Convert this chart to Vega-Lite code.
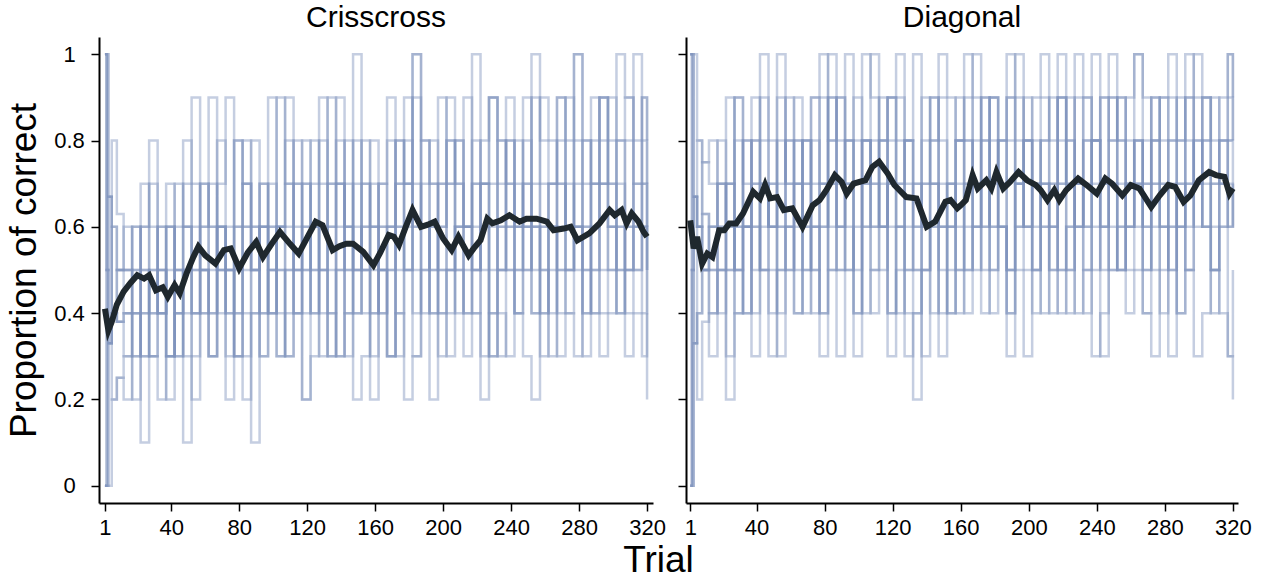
{
"$schema": "https://vega.github.io/schema/vega-lite/v6.json",
"padding": {"left": 5, "top": 3, "right": 5, "bottom": 0},
"bounds": "flush",
"spacing": 33,
"config": {
  "view": {"stroke": null},
  "font": "Liberation Sans",
  "axis": {"domainColor": "black", "domainWidth": 2, "tickColor": "black", "tickWidth": 1.5, "tickSize": 8, "labelFont": "Liberation Sans", "labelFontSize": 22, "labelColor": "black", "titleFont": "Liberation Sans", "titleFontSize": 37, "titleFontWeight": "normal", "titleColor": "black", "grid": false},
  "title": {"font": "Liberation Sans", "fontSize": 30, "fontWeight": "normal", "color": "black", "offset": 0}
},
"datasets": {
"cc": [
{"s":1,"t":1,"v":1},{"s":1,"t":2,"v":0.5},{"s":1,"t":3,"v":0.67},{"s":1,"t":5,"v":0.6},{"s":1,"t":8,"v":0.5},
{"s":1,"t":12,"v":0.5},{"s":1,"t":17,"v":0.6},{"s":1,"t":22,"v":0.4},{"s":1,"t":27,"v":0.5},{"s":1,"t":32,"v":0.6},{"s":1,"t":37,"v":0.7},{"s":1,"t":42,"v":0.5},{"s":1,"t":47,"v":0.6},{"s":1,"t":52,"v":0.7},{"s":1,"t":57,"v":0.6},
{"s":1,"t":62,"v":0.7},{"s":1,"t":67,"v":0.5},{"s":1,"t":72,"v":0.6},{"s":1,"t":77,"v":0.8},{"s":1,"t":82,"v":0.7},{"s":1,"t":87,"v":0.6},{"s":1,"t":92,"v":0.7},{"s":1,"t":97,"v":0.5},{"s":1,"t":102,"v":0.6},{"s":1,"t":107,"v":0.8},
{"s":1,"t":112,"v":0.7},{"s":1,"t":117,"v":0.6},{"s":1,"t":122,"v":0.8},{"s":1,"t":127,"v":0.7},{"s":1,"t":132,"v":0.9},{"s":1,"t":137,"v":0.7},{"s":1,"t":142,"v":0.6},{"s":1,"t":147,"v":0.8},{"s":1,"t":152,"v":0.7},{"s":1,"t":157,"v":0.6},
{"s":1,"t":162,"v":0.7},{"s":1,"t":167,"v":0.8},{"s":1,"t":172,"v":0.6},{"s":1,"t":177,"v":0.7},{"s":1,"t":182,"v":0.9},{"s":1,"t":187,"v":0.8},{"s":1,"t":192,"v":0.7},{"s":1,"t":197,"v":0.6},{"s":1,"t":202,"v":0.8},{"s":1,"t":207,"v":0.7},
{"s":1,"t":212,"v":0.6},{"s":1,"t":217,"v":0.8},{"s":1,"t":222,"v":0.7},{"s":1,"t":227,"v":0.9},{"s":1,"t":232,"v":0.8},{"s":1,"t":237,"v":0.7},{"s":1,"t":242,"v":0.8},{"s":1,"t":247,"v":0.6},{"s":1,"t":252,"v":0.7},{"s":1,"t":257,"v":0.9},
{"s":1,"t":262,"v":0.8},{"s":1,"t":267,"v":0.7},{"s":1,"t":272,"v":0.6},{"s":1,"t":277,"v":0.8},{"s":1,"t":282,"v":0.7},{"s":1,"t":287,"v":0.9},{"s":1,"t":292,"v":0.8},{"s":1,"t":297,"v":0.7},{"s":1,"t":302,"v":0.8},{"s":1,"t":307,"v":0.9},
{"s":1,"t":312,"v":0.7},{"s":1,"t":317,"v":0.8},{"s":1,"t":320,"v":0.7},
{"s":2,"t":1,"v":0},{"s":2,"t":2,"v":0},{"s":2,"t":3,"v":0.33},{"s":2,"t":5,"v":0.2},{"s":2,"t":8,"v":0.25},
{"s":2,"t":12,"v":0.3},{"s":2,"t":17,"v":0.2},{"s":2,"t":22,"v":0.4},{"s":2,"t":27,"v":0.3},{"s":2,"t":32,"v":0.2},{"s":2,"t":37,"v":0.3},{"s":2,"t":42,"v":0.4},{"s":2,"t":47,"v":0.3},{"s":2,"t":52,"v":0.2},{"s":2,"t":57,"v":0.4},
{"s":2,"t":62,"v":0.3},{"s":2,"t":67,"v":0.5},{"s":2,"t":72,"v":0.4},{"s":2,"t":77,"v":0.3},{"s":2,"t":82,"v":0.2},{"s":2,"t":87,"v":0.4},{"s":2,"t":92,"v":0.3},{"s":2,"t":97,"v":0.5},{"s":2,"t":102,"v":0.4},{"s":2,"t":107,"v":0.3},
{"s":2,"t":112,"v":0.4},{"s":2,"t":117,"v":0.2},{"s":2,"t":122,"v":0.3},{"s":2,"t":127,"v":0.5},{"s":2,"t":132,"v":0.4},{"s":2,"t":137,"v":0.3},{"s":2,"t":142,"v":0.4},{"s":2,"t":147,"v":0.2},{"s":2,"t":152,"v":0.3},{"s":2,"t":157,"v":0.4},
{"s":2,"t":162,"v":0.5},{"s":2,"t":167,"v":0.3},{"s":2,"t":172,"v":0.4},{"s":2,"t":177,"v":0.2},{"s":2,"t":182,"v":0.3},{"s":2,"t":187,"v":0.5},{"s":2,"t":192,"v":0.4},{"s":2,"t":197,"v":0.3},{"s":2,"t":202,"v":0.4},{"s":2,"t":207,"v":0.5},
{"s":2,"t":212,"v":0.3},{"s":2,"t":217,"v":0.4},{"s":2,"t":222,"v":0.2},{"s":2,"t":227,"v":0.4},{"s":2,"t":232,"v":0.3},{"s":2,"t":237,"v":0.5},{"s":2,"t":242,"v":0.4},{"s":2,"t":247,"v":0.3},{"s":2,"t":252,"v":0.2},{"s":2,"t":257,"v":0.4},
{"s":2,"t":262,"v":0.5},{"s":2,"t":267,"v":0.3},{"s":2,"t":272,"v":0.4},{"s":2,"t":277,"v":0.3},{"s":2,"t":282,"v":0.5},{"s":2,"t":287,"v":0.4},{"s":2,"t":292,"v":0.3},{"s":2,"t":297,"v":0.4},{"s":2,"t":302,"v":0.5},{"s":2,"t":307,"v":0.3},
{"s":2,"t":312,"v":0.4},{"s":2,"t":317,"v":0.3},{"s":2,"t":320,"v":0.4},
{"s":3,"t":1,"v":1},{"s":3,"t":2,"v":1},{"s":3,"t":3,"v":0.67},{"s":3,"t":5,"v":0.4},{"s":3,"t":8,"v":0.38},
{"s":3,"t":12,"v":0.4},{"s":3,"t":17,"v":0.6},{"s":3,"t":22,"v":0.3},{"s":3,"t":27,"v":0.7},{"s":3,"t":32,"v":0.5},{"s":3,"t":37,"v":0.3},{"s":3,"t":42,"v":0.6},{"s":3,"t":47,"v":0.8},{"s":3,"t":52,"v":0.4},{"s":3,"t":57,"v":0.6},
{"s":3,"t":62,"v":0.9},{"s":3,"t":67,"v":0.5},{"s":3,"t":72,"v":0.3},{"s":3,"t":77,"v":0.6},{"s":3,"t":82,"v":0.8},{"s":3,"t":87,"v":0.5},{"s":3,"t":92,"v":0.7},{"s":3,"t":97,"v":0.4},{"s":3,"t":102,"v":0.6},{"s":3,"t":107,"v":0.9},
{"s":3,"t":112,"v":0.5},{"s":3,"t":117,"v":0.7},{"s":3,"t":122,"v":0.4},{"s":3,"t":127,"v":0.8},{"s":3,"t":132,"v":0.6},{"s":3,"t":137,"v":0.3},{"s":3,"t":142,"v":0.7},{"s":3,"t":147,"v":0.5},{"s":3,"t":152,"v":0.8},{"s":3,"t":157,"v":0.4},
{"s":3,"t":162,"v":0.6},{"s":3,"t":167,"v":0.9},{"s":3,"t":172,"v":0.5},{"s":3,"t":177,"v":0.7},{"s":3,"t":182,"v":1},{"s":3,"t":187,"v":0.6},{"s":3,"t":192,"v":0.4},{"s":3,"t":197,"v":0.7},{"s":3,"t":202,"v":0.5},{"s":3,"t":207,"v":0.8},
{"s":3,"t":212,"v":0.6},{"s":3,"t":217,"v":0.4},{"s":3,"t":222,"v":0.7},{"s":3,"t":227,"v":0.9},{"s":3,"t":232,"v":0.5},{"s":3,"t":237,"v":0.7},{"s":3,"t":242,"v":0.6},{"s":3,"t":247,"v":0.8},{"s":3,"t":252,"v":0.4},{"s":3,"t":257,"v":0.6},
{"s":3,"t":262,"v":0.7},{"s":3,"t":267,"v":0.9},{"s":3,"t":272,"v":0.5},{"s":3,"t":277,"v":0.6},{"s":3,"t":282,"v":0.8},{"s":3,"t":287,"v":0.4},{"s":3,"t":292,"v":0.7},{"s":3,"t":297,"v":0.9},{"s":3,"t":302,"v":0.6},{"s":3,"t":307,"v":0.5},
{"s":3,"t":312,"v":0.7},{"s":3,"t":317,"v":0.6},{"s":3,"t":320,"v":0.5},
{"s":4,"t":1,"v":0},{"s":4,"t":2,"v":0.5},{"s":4,"t":3,"v":0.33},{"s":4,"t":5,"v":0.4},{"s":4,"t":8,"v":0.38},
{"s":4,"t":12,"v":0.4},{"s":4,"t":17,"v":0.3},{"s":4,"t":22,"v":0.5},{"s":4,"t":27,"v":0.4},{"s":4,"t":32,"v":0.5},{"s":4,"t":37,"v":0.3},{"s":4,"t":42,"v":0.4},{"s":4,"t":47,"v":0.6},{"s":4,"t":52,"v":0.5},{"s":4,"t":57,"v":0.4},
{"s":4,"t":62,"v":0.5},{"s":4,"t":67,"v":0.6},{"s":4,"t":72,"v":0.4},{"s":4,"t":77,"v":0.5},{"s":4,"t":82,"v":0.7},{"s":4,"t":87,"v":0.5},{"s":4,"t":92,"v":0.6},{"s":4,"t":97,"v":0.4},{"s":4,"t":102,"v":0.6},{"s":4,"t":107,"v":0.7},
{"s":4,"t":112,"v":0.5},{"s":4,"t":117,"v":0.6},{"s":4,"t":122,"v":0.7},{"s":4,"t":127,"v":0.5},{"s":4,"t":132,"v":0.6},{"s":4,"t":137,"v":0.8},{"s":4,"t":142,"v":0.6},{"s":4,"t":147,"v":0.5},{"s":4,"t":152,"v":0.7},{"s":4,"t":157,"v":0.6},
{"s":4,"t":162,"v":0.7},{"s":4,"t":167,"v":0.6},{"s":4,"t":172,"v":0.8},{"s":4,"t":177,"v":0.7},{"s":4,"t":182,"v":0.6},{"s":4,"t":187,"v":0.8},{"s":4,"t":192,"v":0.7},{"s":4,"t":197,"v":0.9},{"s":4,"t":202,"v":0.7},{"s":4,"t":207,"v":0.8},
{"s":4,"t":212,"v":0.6},{"s":4,"t":217,"v":0.7},{"s":4,"t":222,"v":0.8},{"s":4,"t":227,"v":0.9},{"s":4,"t":232,"v":0.7},{"s":4,"t":237,"v":0.8},{"s":4,"t":242,"v":0.6},{"s":4,"t":247,"v":0.7},{"s":4,"t":252,"v":0.9},{"s":4,"t":257,"v":0.8},
{"s":4,"t":262,"v":0.7},{"s":4,"t":267,"v":0.9},{"s":4,"t":272,"v":0.8},{"s":4,"t":277,"v":1},{"s":4,"t":282,"v":0.8},{"s":4,"t":287,"v":0.7},{"s":4,"t":292,"v":0.9},{"s":4,"t":297,"v":0.8},{"s":4,"t":302,"v":1},{"s":4,"t":307,"v":0.9},
{"s":4,"t":312,"v":0.8},{"s":4,"t":317,"v":0.9},{"s":4,"t":320,"v":0.8},
{"s":5,"t":1,"v":1},{"s":5,"t":2,"v":0.5},{"s":5,"t":3,"v":0.33},{"s":5,"t":5,"v":0.6},{"s":5,"t":8,"v":0.5},
{"s":5,"t":12,"v":0.4},{"s":5,"t":17,"v":0.5},{"s":5,"t":22,"v":0.6},{"s":5,"t":27,"v":0.4},{"s":5,"t":32,"v":0.5},{"s":5,"t":37,"v":0.3},{"s":5,"t":42,"v":0.5},{"s":5,"t":47,"v":0.4},{"s":5,"t":52,"v":0.6},{"s":5,"t":57,"v":0.5},
{"s":5,"t":62,"v":0.4},{"s":5,"t":67,"v":0.6},{"s":5,"t":72,"v":0.5},{"s":5,"t":77,"v":0.3},{"s":5,"t":82,"v":0.5},{"s":5,"t":87,"v":0.6},{"s":5,"t":92,"v":0.4},{"s":5,"t":97,"v":0.5},{"s":5,"t":102,"v":0.6},{"s":5,"t":107,"v":0.4},
{"s":5,"t":112,"v":0.6},{"s":5,"t":117,"v":0.5},{"s":5,"t":122,"v":0.4},{"s":5,"t":127,"v":0.6},{"s":5,"t":132,"v":0.5},{"s":5,"t":137,"v":0.7},{"s":5,"t":142,"v":0.5},{"s":5,"t":147,"v":0.4},{"s":5,"t":152,"v":0.6},{"s":5,"t":157,"v":0.5},
{"s":5,"t":162,"v":0.4},{"s":5,"t":167,"v":0.5},{"s":5,"t":172,"v":0.6},{"s":5,"t":177,"v":0.5},{"s":5,"t":182,"v":0.7},{"s":5,"t":187,"v":0.5},{"s":5,"t":192,"v":0.6},{"s":5,"t":197,"v":0.4},{"s":5,"t":202,"v":0.5},{"s":5,"t":207,"v":0.6},
{"s":5,"t":212,"v":0.5},{"s":5,"t":217,"v":0.7},{"s":5,"t":222,"v":0.6},{"s":5,"t":227,"v":0.4},{"s":5,"t":232,"v":0.6},{"s":5,"t":237,"v":0.5},{"s":5,"t":242,"v":0.6},{"s":5,"t":247,"v":0.7},{"s":5,"t":252,"v":0.5},{"s":5,"t":257,"v":0.6},
{"s":5,"t":262,"v":0.4},{"s":5,"t":267,"v":0.6},{"s":5,"t":272,"v":0.7},{"s":5,"t":277,"v":0.5},{"s":5,"t":282,"v":0.6},{"s":5,"t":287,"v":0.5},{"s":5,"t":292,"v":0.7},{"s":5,"t":297,"v":0.6},{"s":5,"t":302,"v":0.5},{"s":5,"t":307,"v":0.6},
{"s":5,"t":312,"v":0.5},{"s":5,"t":317,"v":0.6},{"s":5,"t":320,"v":0.5},
{"s":6,"t":1,"v":0},{"s":6,"t":2,"v":0},{"s":6,"t":3,"v":0},{"s":6,"t":5,"v":0.2},{"s":6,"t":8,"v":0.25},
{"s":6,"t":12,"v":0.2},{"s":6,"t":17,"v":0.4},{"s":6,"t":22,"v":0.1},{"s":6,"t":27,"v":0.3},{"s":6,"t":32,"v":0.6},{"s":6,"t":37,"v":0.2},{"s":6,"t":42,"v":0.5},{"s":6,"t":47,"v":0.1},{"s":6,"t":52,"v":0.4},{"s":6,"t":57,"v":0.7},
{"s":6,"t":62,"v":0.3},{"s":6,"t":67,"v":0.6},{"s":6,"t":72,"v":0.2},{"s":6,"t":77,"v":0.8},{"s":6,"t":82,"v":0.4},{"s":6,"t":87,"v":0.1},{"s":6,"t":92,"v":0.6},{"s":6,"t":97,"v":0.9},{"s":6,"t":102,"v":0.3},{"s":6,"t":107,"v":0.5},
{"s":6,"t":112,"v":0.7},{"s":6,"t":117,"v":0.2},{"s":6,"t":122,"v":0.6},{"s":6,"t":127,"v":0.9},{"s":6,"t":132,"v":0.4},{"s":6,"t":137,"v":0.7},{"s":6,"t":142,"v":0.3},{"s":6,"t":147,"v":1},{"s":6,"t":152,"v":0.5},{"s":6,"t":157,"v":0.2},
{"s":6,"t":162,"v":0.6},{"s":6,"t":167,"v":0.3},{"s":6,"t":172,"v":0.8},{"s":6,"t":177,"v":0.5},{"s":6,"t":182,"v":1},{"s":6,"t":187,"v":0.6},{"s":6,"t":192,"v":0.2},{"s":6,"t":197,"v":0.7},{"s":6,"t":202,"v":0.9},{"s":6,"t":207,"v":0.4},
{"s":6,"t":212,"v":0.6},{"s":6,"t":217,"v":1},{"s":6,"t":222,"v":0.3},{"s":6,"t":227,"v":0.7},{"s":6,"t":232,"v":0.5},{"s":6,"t":237,"v":0.9},{"s":6,"t":242,"v":0.4},{"s":6,"t":247,"v":0.6},{"s":6,"t":252,"v":1},{"s":6,"t":257,"v":0.5},
{"s":6,"t":262,"v":0.3},{"s":6,"t":267,"v":0.8},{"s":6,"t":272,"v":0.6},{"s":6,"t":277,"v":1},{"s":6,"t":282,"v":0.4},{"s":6,"t":287,"v":0.7},{"s":6,"t":292,"v":0.9},{"s":6,"t":297,"v":0.5},{"s":6,"t":302,"v":0.8},{"s":6,"t":307,"v":0.6},
{"s":6,"t":312,"v":1},{"s":6,"t":317,"v":0.7},{"s":6,"t":320,"v":0.2},
{"s":7,"t":1,"v":1},{"s":7,"t":2,"v":0.5},{"s":7,"t":3,"v":0.33},{"s":7,"t":5,"v":0.4},{"s":7,"t":8,"v":0.5},
{"s":7,"t":12,"v":0.6},{"s":7,"t":17,"v":0.5},{"s":7,"t":22,"v":0.7},{"s":7,"t":27,"v":0.6},{"s":7,"t":32,"v":0.4},{"s":7,"t":37,"v":0.5},{"s":7,"t":42,"v":0.7},{"s":7,"t":47,"v":0.6},{"s":7,"t":52,"v":0.5},{"s":7,"t":57,"v":0.7},
{"s":7,"t":62,"v":0.6},{"s":7,"t":67,"v":0.8},{"s":7,"t":72,"v":0.5},{"s":7,"t":77,"v":0.6},{"s":7,"t":82,"v":0.7},{"s":7,"t":87,"v":0.4},{"s":7,"t":92,"v":0.6},{"s":7,"t":97,"v":0.7},{"s":7,"t":102,"v":0.5},{"s":7,"t":107,"v":0.6},
{"s":7,"t":112,"v":0.8},{"s":7,"t":117,"v":0.7},{"s":7,"t":122,"v":0.5},{"s":7,"t":127,"v":0.6},{"s":7,"t":132,"v":0.7},{"s":7,"t":137,"v":0.6},{"s":7,"t":142,"v":0.8},{"s":7,"t":147,"v":0.5},{"s":7,"t":152,"v":0.6},{"s":7,"t":157,"v":0.7},
{"s":7,"t":162,"v":0.5},{"s":7,"t":167,"v":0.6},{"s":7,"t":172,"v":0.7},{"s":7,"t":177,"v":0.8},{"s":7,"t":182,"v":0.6},{"s":7,"t":187,"v":0.7},{"s":7,"t":192,"v":0.5},{"s":7,"t":197,"v":0.6},{"s":7,"t":202,"v":0.8},{"s":7,"t":207,"v":0.7},
{"s":7,"t":212,"v":0.6},{"s":7,"t":217,"v":0.5},{"s":7,"t":222,"v":0.7},{"s":7,"t":227,"v":0.6},{"s":7,"t":232,"v":0.8},{"s":7,"t":237,"v":0.6},{"s":7,"t":242,"v":0.7},{"s":7,"t":247,"v":0.5},{"s":7,"t":252,"v":0.6},{"s":7,"t":257,"v":0.7},
{"s":7,"t":262,"v":0.6},{"s":7,"t":267,"v":0.7},{"s":7,"t":272,"v":0.5},{"s":7,"t":277,"v":0.7},{"s":7,"t":282,"v":0.6},{"s":7,"t":287,"v":0.8},{"s":7,"t":292,"v":0.7},{"s":7,"t":297,"v":0.6},{"s":7,"t":302,"v":0.7},{"s":7,"t":307,"v":0.5},
{"s":7,"t":312,"v":0.6},{"s":7,"t":317,"v":0.7},{"s":7,"t":320,"v":0.6},
{"s":8,"t":1,"v":0},{"s":8,"t":2,"v":0.5},{"s":8,"t":3,"v":0.67},{"s":8,"t":5,"v":0.4},{"s":8,"t":8,"v":0.38},
{"s":8,"t":12,"v":0.3},{"s":8,"t":17,"v":0.4},{"s":8,"t":22,"v":0.5},{"s":8,"t":27,"v":0.3},{"s":8,"t":32,"v":0.4},{"s":8,"t":37,"v":0.6},{"s":8,"t":42,"v":0.4},{"s":8,"t":47,"v":0.5},{"s":8,"t":52,"v":0.3},{"s":8,"t":57,"v":0.5},
{"s":8,"t":62,"v":0.4},{"s":8,"t":67,"v":0.6},{"s":8,"t":72,"v":0.5},{"s":8,"t":77,"v":0.4},{"s":8,"t":82,"v":0.3},{"s":8,"t":87,"v":0.5},{"s":8,"t":92,"v":0.6},{"s":8,"t":97,"v":0.4},{"s":8,"t":102,"v":0.5},{"s":8,"t":107,"v":0.3},
{"s":8,"t":112,"v":0.5},{"s":8,"t":117,"v":0.4},{"s":8,"t":122,"v":0.6},{"s":8,"t":127,"v":0.5},{"s":8,"t":132,"v":0.3},{"s":8,"t":137,"v":0.5},{"s":8,"t":142,"v":0.6},{"s":8,"t":147,"v":0.4},{"s":8,"t":152,"v":0.5},{"s":8,"t":157,"v":0.6},
{"s":8,"t":162,"v":0.4},{"s":8,"t":167,"v":0.5},{"s":8,"t":172,"v":0.3},{"s":8,"t":177,"v":0.6},{"s":8,"t":182,"v":0.5},{"s":8,"t":187,"v":0.4},{"s":8,"t":192,"v":0.6},{"s":8,"t":197,"v":0.5},{"s":8,"t":202,"v":0.7},{"s":8,"t":207,"v":0.5},
{"s":8,"t":212,"v":0.4},{"s":8,"t":217,"v":0.6},{"s":8,"t":222,"v":0.5},{"s":8,"t":227,"v":0.3},{"s":8,"t":232,"v":0.5},{"s":8,"t":237,"v":0.6},{"s":8,"t":242,"v":0.4},{"s":8,"t":247,"v":0.5},{"s":8,"t":252,"v":0.6},{"s":8,"t":257,"v":0.4},
{"s":8,"t":262,"v":0.6},{"s":8,"t":267,"v":0.5},{"s":8,"t":272,"v":0.4},{"s":8,"t":277,"v":0.6},{"s":8,"t":282,"v":0.5},{"s":8,"t":287,"v":0.7},{"s":8,"t":292,"v":0.5},{"s":8,"t":297,"v":0.6},{"s":8,"t":302,"v":0.4},{"s":8,"t":307,"v":0.5},
{"s":8,"t":312,"v":0.6},{"s":8,"t":317,"v":0.4},{"s":8,"t":320,"v":0.5},
{"s":9,"t":1,"v":1},{"s":9,"t":2,"v":1},{"s":9,"t":3,"v":0.67},{"s":9,"t":5,"v":0.8},{"s":9,"t":8,"v":0.63},
{"s":9,"t":12,"v":0.5},{"s":9,"t":17,"v":0.3},{"s":9,"t":22,"v":0.6},{"s":9,"t":27,"v":0.8},{"s":9,"t":32,"v":0.4},{"s":9,"t":37,"v":0.6},{"s":9,"t":42,"v":0.3},{"s":9,"t":47,"v":0.7},{"s":9,"t":52,"v":0.9},{"s":9,"t":57,"v":0.5},
{"s":9,"t":62,"v":0.3},{"s":9,"t":67,"v":0.7},{"s":9,"t":72,"v":0.9},{"s":9,"t":77,"v":0.4},{"s":9,"t":82,"v":0.6},{"s":9,"t":87,"v":0.8},{"s":9,"t":92,"v":0.3},{"s":9,"t":97,"v":0.6},{"s":9,"t":102,"v":0.9},{"s":9,"t":107,"v":0.7},
{"s":9,"t":112,"v":0.4},{"s":9,"t":117,"v":0.8},{"s":9,"t":122,"v":0.5},{"s":9,"t":127,"v":0.3},{"s":9,"t":132,"v":0.7},{"s":9,"t":137,"v":0.9},{"s":9,"t":142,"v":0.5},{"s":9,"t":147,"v":0.7},{"s":9,"t":152,"v":0.4},{"s":9,"t":157,"v":0.8},
{"s":9,"t":162,"v":0.5},{"s":9,"t":167,"v":0.3},{"s":9,"t":172,"v":0.7},{"s":9,"t":177,"v":0.9},{"s":9,"t":182,"v":0.4},{"s":9,"t":187,"v":0.6},{"s":9,"t":192,"v":0.8},{"s":9,"t":197,"v":0.5},{"s":9,"t":202,"v":0.3},{"s":9,"t":207,"v":0.6},
{"s":9,"t":212,"v":0.9},{"s":9,"t":217,"v":0.5},{"s":9,"t":222,"v":0.7},{"s":9,"t":227,"v":0.3},{"s":9,"t":232,"v":0.6},{"s":9,"t":237,"v":0.8},{"s":9,"t":242,"v":0.5},{"s":9,"t":247,"v":0.9},{"s":9,"t":252,"v":0.6},{"s":9,"t":257,"v":0.3},
{"s":9,"t":262,"v":0.7},{"s":9,"t":267,"v":0.5},{"s":9,"t":272,"v":0.9},{"s":9,"t":277,"v":0.6},{"s":9,"t":282,"v":0.4},{"s":9,"t":287,"v":0.6},{"s":9,"t":292,"v":0.9},{"s":9,"t":297,"v":0.7},{"s":9,"t":302,"v":0.4},{"s":9,"t":307,"v":0.8},
{"s":9,"t":312,"v":0.6},{"s":9,"t":317,"v":0.9},{"s":9,"t":320,"v":0.6},
{"s":10,"t":1,"v":0},{"s":10,"t":2,"v":0},{"s":10,"t":3,"v":0.33},{"s":10,"t":5,"v":0.4},{"s":10,"t":8,"v":0.5},
{"s":10,"t":12,"v":0.5},{"s":10,"t":17,"v":0.4},{"s":10,"t":22,"v":0.3},{"s":10,"t":27,"v":0.5},{"s":10,"t":32,"v":0.4},{"s":10,"t":37,"v":0.6},{"s":10,"t":42,"v":0.3},{"s":10,"t":47,"v":0.5},{"s":10,"t":52,"v":0.4},{"s":10,"t":57,"v":0.5},
{"s":10,"t":62,"v":0.6},{"s":10,"t":67,"v":0.4},{"s":10,"t":72,"v":0.5},{"s":10,"t":77,"v":0.3},{"s":10,"t":82,"v":0.6},{"s":10,"t":87,"v":0.5},{"s":10,"t":92,"v":0.4},{"s":10,"t":97,"v":0.6},{"s":10,"t":102,"v":0.3},{"s":10,"t":107,"v":0.5},
{"s":10,"t":112,"v":0.4},{"s":10,"t":117,"v":0.5},{"s":10,"t":122,"v":0.6},{"s":10,"t":127,"v":0.4},{"s":10,"t":132,"v":0.3},{"s":10,"t":137,"v":0.5},{"s":10,"t":142,"v":0.4},{"s":10,"t":147,"v":0.6},{"s":10,"t":152,"v":0.5},{"s":10,"t":157,"v":0.3},
{"s":10,"t":162,"v":0.5},{"s":10,"t":167,"v":0.6},{"s":10,"t":172,"v":0.4},{"s":10,"t":177,"v":0.5},{"s":10,"t":182,"v":0.3},{"s":10,"t":187,"v":0.6},{"s":10,"t":192,"v":0.5},{"s":10,"t":197,"v":0.4},{"s":10,"t":202,"v":0.5},{"s":10,"t":207,"v":0.6},
{"s":10,"t":212,"v":0.4},{"s":10,"t":217,"v":0.5},{"s":10,"t":222,"v":0.6},{"s":10,"t":227,"v":0.5},{"s":10,"t":232,"v":0.4},{"s":10,"t":237,"v":0.3},{"s":10,"t":242,"v":0.5},{"s":10,"t":247,"v":0.6},{"s":10,"t":252,"v":0.4},{"s":10,"t":257,"v":0.5},
{"s":10,"t":262,"v":0.6},{"s":10,"t":267,"v":0.4},{"s":10,"t":272,"v":0.5},{"s":10,"t":277,"v":0.6},{"s":10,"t":282,"v":0.3},{"s":10,"t":287,"v":0.5},{"s":10,"t":292,"v":0.4},{"s":10,"t":297,"v":0.5},{"s":10,"t":302,"v":0.6},{"s":10,"t":307,"v":0.4},
{"s":10,"t":312,"v":0.5},{"s":10,"t":317,"v":0.6},{"s":10,"t":320,"v":0.5}
],
"dg": [
{"s":1,"t":1,"v":1},{"s":1,"t":2,"v":1},{"s":1,"t":3,"v":0.67},{"s":1,"t":5,"v":0.8},{"s":1,"t":8,"v":0.75},
{"s":1,"t":12,"v":0.7},{"s":1,"t":17,"v":0.8},{"s":1,"t":22,"v":0.6},{"s":1,"t":27,"v":0.9},{"s":1,"t":32,"v":0.7},{"s":1,"t":37,"v":0.8},{"s":1,"t":42,"v":1},{"s":1,"t":47,"v":0.8},{"s":1,"t":52,"v":0.7},{"s":1,"t":57,"v":0.9},
{"s":1,"t":62,"v":0.8},{"s":1,"t":67,"v":0.7},{"s":1,"t":72,"v":0.9},{"s":1,"t":77,"v":1},{"s":1,"t":82,"v":0.8},{"s":1,"t":87,"v":0.9},{"s":1,"t":92,"v":0.7},{"s":1,"t":97,"v":0.8},{"s":1,"t":102,"v":1},{"s":1,"t":107,"v":0.9},
{"s":1,"t":112,"v":0.8},{"s":1,"t":117,"v":0.9},{"s":1,"t":122,"v":1},{"s":1,"t":127,"v":0.8},{"s":1,"t":132,"v":0.7},{"s":1,"t":137,"v":0.9},{"s":1,"t":142,"v":0.8},{"s":1,"t":147,"v":1},{"s":1,"t":152,"v":0.9},{"s":1,"t":157,"v":0.8},
{"s":1,"t":162,"v":0.9},{"s":1,"t":167,"v":1},{"s":1,"t":172,"v":0.8},{"s":1,"t":177,"v":0.9},{"s":1,"t":182,"v":0.7},{"s":1,"t":187,"v":0.9},{"s":1,"t":192,"v":1},{"s":1,"t":197,"v":0.8},{"s":1,"t":202,"v":0.9},{"s":1,"t":207,"v":1},
{"s":1,"t":212,"v":0.8},{"s":1,"t":217,"v":0.9},{"s":1,"t":222,"v":0.7},{"s":1,"t":227,"v":1},{"s":1,"t":232,"v":0.9},{"s":1,"t":237,"v":0.8},{"s":1,"t":242,"v":0.9},{"s":1,"t":247,"v":1},{"s":1,"t":252,"v":0.8},{"s":1,"t":257,"v":0.9},
{"s":1,"t":262,"v":1},{"s":1,"t":267,"v":0.9},{"s":1,"t":272,"v":0.8},{"s":1,"t":277,"v":0.9},{"s":1,"t":282,"v":1},{"s":1,"t":287,"v":0.8},{"s":1,"t":292,"v":0.9},{"s":1,"t":297,"v":1},{"s":1,"t":302,"v":0.9},{"s":1,"t":307,"v":0.8},
{"s":1,"t":312,"v":0.9},{"s":1,"t":317,"v":1},{"s":1,"t":320,"v":0.9},
{"s":2,"t":1,"v":0},{"s":2,"t":2,"v":0.5},{"s":2,"t":3,"v":0.33},{"s":2,"t":5,"v":0.4},{"s":2,"t":8,"v":0.5},
{"s":2,"t":12,"v":0.5},{"s":2,"t":17,"v":0.4},{"s":2,"t":22,"v":0.6},{"s":2,"t":27,"v":0.5},{"s":2,"t":32,"v":0.4},{"s":2,"t":37,"v":0.6},{"s":2,"t":42,"v":0.5},{"s":2,"t":47,"v":0.4},{"s":2,"t":52,"v":0.5},{"s":2,"t":57,"v":0.6},
{"s":2,"t":62,"v":0.4},{"s":2,"t":67,"v":0.5},{"s":2,"t":72,"v":0.6},{"s":2,"t":77,"v":0.4},{"s":2,"t":82,"v":0.5},{"s":2,"t":87,"v":0.3},{"s":2,"t":92,"v":0.5},{"s":2,"t":97,"v":0.6},{"s":2,"t":102,"v":0.4},{"s":2,"t":107,"v":0.5},
{"s":2,"t":112,"v":0.6},{"s":2,"t":117,"v":0.4},{"s":2,"t":122,"v":0.5},{"s":2,"t":127,"v":0.3},{"s":2,"t":132,"v":0.4},{"s":2,"t":137,"v":0.5},{"s":2,"t":142,"v":0.6},{"s":2,"t":147,"v":0.4},{"s":2,"t":152,"v":0.5},{"s":2,"t":157,"v":0.4},
{"s":2,"t":162,"v":0.5},{"s":2,"t":167,"v":0.6},{"s":2,"t":172,"v":0.4},{"s":2,"t":177,"v":0.5},{"s":2,"t":182,"v":0.6},{"s":2,"t":187,"v":0.4},{"s":2,"t":192,"v":0.5},{"s":2,"t":197,"v":0.3},{"s":2,"t":202,"v":0.5},{"s":2,"t":207,"v":0.6},
{"s":2,"t":212,"v":0.4},{"s":2,"t":217,"v":0.5},{"s":2,"t":222,"v":0.6},{"s":2,"t":227,"v":0.4},{"s":2,"t":232,"v":0.5},{"s":2,"t":237,"v":0.3},{"s":2,"t":242,"v":0.4},{"s":2,"t":247,"v":0.5},{"s":2,"t":252,"v":0.6},{"s":2,"t":257,"v":0.4},
{"s":2,"t":262,"v":0.5},{"s":2,"t":267,"v":0.4},{"s":2,"t":272,"v":0.3},{"s":2,"t":277,"v":0.5},{"s":2,"t":282,"v":0.6},{"s":2,"t":287,"v":0.4},{"s":2,"t":292,"v":0.5},{"s":2,"t":297,"v":0.3},{"s":2,"t":302,"v":0.4},{"s":2,"t":307,"v":0.5},
{"s":2,"t":312,"v":0.4},{"s":2,"t":317,"v":0.3},{"s":2,"t":320,"v":0.2},
{"s":3,"t":1,"v":1},{"s":3,"t":2,"v":0.5},{"s":3,"t":3,"v":0.67},{"s":3,"t":5,"v":0.6},{"s":3,"t":8,"v":0.63},
{"s":3,"t":12,"v":0.6},{"s":3,"t":17,"v":0.7},{"s":3,"t":22,"v":0.5},{"s":3,"t":27,"v":0.8},{"s":3,"t":32,"v":0.6},{"s":3,"t":37,"v":0.9},{"s":3,"t":42,"v":0.7},{"s":3,"t":47,"v":0.6},{"s":3,"t":52,"v":0.8},{"s":3,"t":57,"v":0.7},
{"s":3,"t":62,"v":0.9},{"s":3,"t":67,"v":0.6},{"s":3,"t":72,"v":0.8},{"s":3,"t":77,"v":0.7},{"s":3,"t":82,"v":0.9},{"s":3,"t":87,"v":0.8},{"s":3,"t":92,"v":1},{"s":3,"t":97,"v":0.7},{"s":3,"t":102,"v":0.8},{"s":3,"t":107,"v":0.6},
{"s":3,"t":112,"v":0.8},{"s":3,"t":117,"v":0.9},{"s":3,"t":122,"v":0.7},{"s":3,"t":127,"v":0.8},{"s":3,"t":132,"v":0.6},{"s":3,"t":137,"v":0.7},{"s":3,"t":142,"v":0.9},{"s":3,"t":147,"v":0.8},{"s":3,"t":152,"v":0.7},{"s":3,"t":157,"v":0.9},
{"s":3,"t":162,"v":0.8},{"s":3,"t":167,"v":0.7},{"s":3,"t":172,"v":0.9},{"s":3,"t":177,"v":0.6},{"s":3,"t":182,"v":0.8},{"s":3,"t":187,"v":0.9},{"s":3,"t":192,"v":0.7},{"s":3,"t":197,"v":0.8},{"s":3,"t":202,"v":0.6},{"s":3,"t":207,"v":0.8},
{"s":3,"t":212,"v":0.9},{"s":3,"t":217,"v":0.7},{"s":3,"t":222,"v":0.8},{"s":3,"t":227,"v":0.6},{"s":3,"t":232,"v":0.9},{"s":3,"t":237,"v":0.8},{"s":3,"t":242,"v":0.7},{"s":3,"t":247,"v":0.9},{"s":3,"t":252,"v":0.8},{"s":3,"t":257,"v":0.7},
{"s":3,"t":262,"v":0.8},{"s":3,"t":267,"v":0.6},{"s":3,"t":272,"v":0.9},{"s":3,"t":277,"v":0.7},{"s":3,"t":282,"v":0.8},{"s":3,"t":287,"v":0.9},{"s":3,"t":292,"v":0.7},{"s":3,"t":297,"v":0.8},{"s":3,"t":302,"v":0.9},{"s":3,"t":307,"v":0.7},
{"s":3,"t":312,"v":0.8},{"s":3,"t":317,"v":0.9},{"s":3,"t":320,"v":0.8},
{"s":4,"t":1,"v":0},{"s":4,"t":2,"v":0},{"s":4,"t":3,"v":0.33},{"s":4,"t":5,"v":0.2},{"s":4,"t":8,"v":0.38},
{"s":4,"t":12,"v":0.4},{"s":4,"t":17,"v":0.5},{"s":4,"t":22,"v":0.3},{"s":4,"t":27,"v":0.6},{"s":4,"t":32,"v":0.4},{"s":4,"t":37,"v":0.7},{"s":4,"t":42,"v":0.5},{"s":4,"t":47,"v":0.3},{"s":4,"t":52,"v":0.6},{"s":4,"t":57,"v":0.8},
{"s":4,"t":62,"v":0.5},{"s":4,"t":67,"v":0.7},{"s":4,"t":72,"v":0.4},{"s":4,"t":77,"v":0.6},{"s":4,"t":82,"v":0.9},{"s":4,"t":87,"v":0.5},{"s":4,"t":92,"v":0.7},{"s":4,"t":97,"v":0.4},{"s":4,"t":102,"v":0.8},{"s":4,"t":107,"v":0.6},
{"s":4,"t":112,"v":0.9},{"s":4,"t":117,"v":0.4},{"s":4,"t":122,"v":0.6},{"s":4,"t":127,"v":0.8},{"s":4,"t":132,"v":0.5},{"s":4,"t":137,"v":0.3},{"s":4,"t":142,"v":0.6},{"s":4,"t":147,"v":0.7},{"s":4,"t":152,"v":0.4},{"s":4,"t":157,"v":0.6},
{"s":4,"t":162,"v":0.8},{"s":4,"t":167,"v":0.5},{"s":4,"t":172,"v":0.7},{"s":4,"t":177,"v":0.9},{"s":4,"t":182,"v":0.6},{"s":4,"t":187,"v":0.4},{"s":4,"t":192,"v":0.7},{"s":4,"t":197,"v":0.8},{"s":4,"t":202,"v":0.5},{"s":4,"t":207,"v":0.7},
{"s":4,"t":212,"v":0.6},{"s":4,"t":217,"v":0.9},{"s":4,"t":222,"v":0.5},{"s":4,"t":227,"v":0.7},{"s":4,"t":232,"v":0.4},{"s":4,"t":237,"v":0.8},{"s":4,"t":242,"v":0.6},{"s":4,"t":247,"v":0.9},{"s":4,"t":252,"v":0.5},{"s":4,"t":257,"v":0.7},
{"s":4,"t":262,"v":0.8},{"s":4,"t":267,"v":0.5},{"s":4,"t":272,"v":0.7},{"s":4,"t":277,"v":0.6},{"s":4,"t":282,"v":0.9},{"s":4,"t":287,"v":0.4},{"s":4,"t":292,"v":0.7},{"s":4,"t":297,"v":0.6},{"s":4,"t":302,"v":0.8},{"s":4,"t":307,"v":0.5},
{"s":4,"t":312,"v":0.7},{"s":4,"t":317,"v":0.6},{"s":4,"t":320,"v":0.7},
{"s":5,"t":1,"v":1},{"s":5,"t":2,"v":1},{"s":5,"t":3,"v":1},{"s":5,"t":5,"v":0.8},{"s":5,"t":8,"v":0.63},
{"s":5,"t":12,"v":0.5},{"s":5,"t":17,"v":0.6},{"s":5,"t":22,"v":0.7},{"s":5,"t":27,"v":0.5},{"s":5,"t":32,"v":0.6},{"s":5,"t":37,"v":0.8},{"s":5,"t":42,"v":0.6},{"s":5,"t":47,"v":0.7},{"s":5,"t":52,"v":0.5},{"s":5,"t":57,"v":0.6},
{"s":5,"t":62,"v":0.7},{"s":5,"t":67,"v":0.8},{"s":5,"t":72,"v":0.6},{"s":5,"t":77,"v":0.7},{"s":5,"t":82,"v":0.5},{"s":5,"t":87,"v":0.6},{"s":5,"t":92,"v":0.8},{"s":5,"t":97,"v":0.7},{"s":5,"t":102,"v":0.6},{"s":5,"t":107,"v":0.7},
{"s":5,"t":112,"v":0.8},{"s":5,"t":117,"v":0.6},{"s":5,"t":122,"v":0.7},{"s":5,"t":127,"v":0.5},{"s":5,"t":132,"v":0.7},{"s":5,"t":137,"v":0.6},{"s":5,"t":142,"v":0.4},{"s":5,"t":147,"v":0.6},{"s":5,"t":152,"v":0.7},{"s":5,"t":157,"v":0.5},
{"s":5,"t":162,"v":0.6},{"s":5,"t":167,"v":0.7},{"s":5,"t":172,"v":0.8},{"s":5,"t":177,"v":0.6},{"s":5,"t":182,"v":0.7},{"s":5,"t":187,"v":0.5},{"s":5,"t":192,"v":0.6},{"s":5,"t":197,"v":0.8},{"s":5,"t":202,"v":0.7},{"s":5,"t":207,"v":0.6},
{"s":5,"t":212,"v":0.7},{"s":5,"t":217,"v":0.5},{"s":5,"t":222,"v":0.6},{"s":5,"t":227,"v":0.7},{"s":5,"t":232,"v":0.8},{"s":5,"t":237,"v":0.6},{"s":5,"t":242,"v":0.7},{"s":5,"t":247,"v":0.5},{"s":5,"t":252,"v":0.6},{"s":5,"t":257,"v":0.7},
{"s":5,"t":262,"v":0.6},{"s":5,"t":267,"v":0.8},{"s":5,"t":272,"v":0.7},{"s":5,"t":277,"v":0.6},{"s":5,"t":282,"v":0.5},{"s":5,"t":287,"v":0.7},{"s":5,"t":292,"v":0.6},{"s":5,"t":297,"v":0.8},{"s":5,"t":302,"v":0.7},{"s":5,"t":307,"v":0.6},
{"s":5,"t":312,"v":0.7},{"s":5,"t":317,"v":0.8},{"s":5,"t":320,"v":0.7},
{"s":6,"t":1,"v":0},{"s":6,"t":2,"v":0.5},{"s":6,"t":3,"v":0.67},{"s":6,"t":5,"v":0.6},{"s":6,"t":8,"v":0.5},
{"s":6,"t":12,"v":0.3},{"s":6,"t":17,"v":0.5},{"s":6,"t":22,"v":0.2},{"s":6,"t":27,"v":0.4},{"s":6,"t":32,"v":0.6},{"s":6,"t":37,"v":0.3},{"s":6,"t":42,"v":0.7},{"s":6,"t":47,"v":0.5},{"s":6,"t":52,"v":0.3},{"s":6,"t":57,"v":0.6},
{"s":6,"t":62,"v":0.4},{"s":6,"t":67,"v":0.8},{"s":6,"t":72,"v":0.5},{"s":6,"t":77,"v":0.3},{"s":6,"t":82,"v":0.7},{"s":6,"t":87,"v":0.9},{"s":6,"t":92,"v":0.6},{"s":6,"t":97,"v":0.4},{"s":6,"t":102,"v":0.8},{"s":6,"t":107,"v":0.5},
{"s":6,"t":112,"v":0.7},{"s":6,"t":117,"v":0.3},{"s":6,"t":122,"v":0.6},{"s":6,"t":127,"v":0.4},{"s":6,"t":132,"v":0.2},{"s":6,"t":137,"v":0.5},{"s":6,"t":142,"v":0.7},{"s":6,"t":147,"v":0.3},{"s":6,"t":152,"v":0.6},{"s":6,"t":157,"v":0.8},
{"s":6,"t":162,"v":0.4},{"s":6,"t":167,"v":0.7},{"s":6,"t":172,"v":0.5},{"s":6,"t":177,"v":0.9},{"s":6,"t":182,"v":0.6},{"s":6,"t":187,"v":0.3},{"s":6,"t":192,"v":0.8},{"s":6,"t":197,"v":0.5},{"s":6,"t":202,"v":0.7},{"s":6,"t":207,"v":0.4},
{"s":6,"t":212,"v":0.6},{"s":6,"t":217,"v":0.9},{"s":6,"t":222,"v":0.4},{"s":6,"t":227,"v":0.7},{"s":6,"t":232,"v":0.5},{"s":6,"t":237,"v":0.8},{"s":6,"t":242,"v":0.3},{"s":6,"t":247,"v":0.6},{"s":6,"t":252,"v":0.9},{"s":6,"t":257,"v":0.5},
{"s":6,"t":262,"v":0.7},{"s":6,"t":267,"v":0.4},{"s":6,"t":272,"v":0.8},{"s":6,"t":277,"v":0.6},{"s":6,"t":282,"v":0.3},{"s":6,"t":287,"v":0.7},{"s":6,"t":292,"v":0.5},{"s":6,"t":297,"v":0.9},{"s":6,"t":302,"v":0.6},{"s":6,"t":307,"v":0.4},
{"s":6,"t":312,"v":0.6},{"s":6,"t":317,"v":0.3},{"s":6,"t":320,"v":0.5},
{"s":7,"t":1,"v":1},{"s":7,"t":2,"v":0.5},{"s":7,"t":3,"v":0.67},{"s":7,"t":5,"v":0.6},{"s":7,"t":8,"v":0.75},
{"s":7,"t":12,"v":0.8},{"s":7,"t":17,"v":0.6},{"s":7,"t":22,"v":0.7},{"s":7,"t":27,"v":0.9},{"s":7,"t":32,"v":0.6},{"s":7,"t":37,"v":0.7},{"s":7,"t":42,"v":0.8},{"s":7,"t":47,"v":0.6},{"s":7,"t":52,"v":0.9},{"s":7,"t":57,"v":0.7},
{"s":7,"t":62,"v":0.6},{"s":7,"t":67,"v":0.8},{"s":7,"t":72,"v":0.7},{"s":7,"t":77,"v":0.9},{"s":7,"t":82,"v":0.6},{"s":7,"t":87,"v":0.7},{"s":7,"t":92,"v":0.8},{"s":7,"t":97,"v":0.9},{"s":7,"t":102,"v":0.7},{"s":7,"t":107,"v":0.8},
{"s":7,"t":112,"v":0.6},{"s":7,"t":117,"v":0.8},{"s":7,"t":122,"v":0.9},{"s":7,"t":127,"v":0.7},{"s":7,"t":132,"v":0.6},{"s":7,"t":137,"v":0.8},{"s":7,"t":142,"v":0.7},{"s":7,"t":147,"v":0.9},{"s":7,"t":152,"v":0.6},{"s":7,"t":157,"v":0.8},
{"s":7,"t":162,"v":0.7},{"s":7,"t":167,"v":0.9},{"s":7,"t":172,"v":0.6},{"s":7,"t":177,"v":0.8},{"s":7,"t":182,"v":0.7},{"s":7,"t":187,"v":0.8},{"s":7,"t":192,"v":0.9},{"s":7,"t":197,"v":0.6},{"s":7,"t":202,"v":0.7},{"s":7,"t":207,"v":0.9},
{"s":7,"t":212,"v":0.7},{"s":7,"t":217,"v":0.8},{"s":7,"t":222,"v":0.9},{"s":7,"t":227,"v":0.6},{"s":7,"t":232,"v":0.8},{"s":7,"t":237,"v":0.7},{"s":7,"t":242,"v":0.9},{"s":7,"t":247,"v":0.8},{"s":7,"t":252,"v":0.7},{"s":7,"t":257,"v":0.6},
{"s":7,"t":262,"v":0.8},{"s":7,"t":267,"v":0.7},{"s":7,"t":272,"v":0.9},{"s":7,"t":277,"v":0.8},{"s":7,"t":282,"v":0.6},{"s":7,"t":287,"v":0.8},{"s":7,"t":292,"v":0.9},{"s":7,"t":297,"v":0.7},{"s":7,"t":302,"v":0.8},{"s":7,"t":307,"v":0.9},
{"s":7,"t":312,"v":0.7},{"s":7,"t":317,"v":0.8},{"s":7,"t":320,"v":0.8},
{"s":8,"t":1,"v":0},{"s":8,"t":2,"v":0.5},{"s":8,"t":3,"v":0.33},{"s":8,"t":5,"v":0.6},{"s":8,"t":8,"v":0.5},
{"s":8,"t":12,"v":0.6},{"s":8,"t":17,"v":0.5},{"s":8,"t":22,"v":0.7},{"s":8,"t":27,"v":0.4},{"s":8,"t":32,"v":0.6},{"s":8,"t":37,"v":0.5},{"s":8,"t":42,"v":0.7},{"s":8,"t":47,"v":0.6},{"s":8,"t":52,"v":0.4},{"s":8,"t":57,"v":0.5},
{"s":8,"t":62,"v":0.7},{"s":8,"t":67,"v":0.5},{"s":8,"t":72,"v":0.6},{"s":8,"t":77,"v":0.4},{"s":8,"t":82,"v":0.7},{"s":8,"t":87,"v":0.6},{"s":8,"t":92,"v":0.5},{"s":8,"t":97,"v":0.7},{"s":8,"t":102,"v":0.6},{"s":8,"t":107,"v":0.4},
{"s":8,"t":112,"v":0.5},{"s":8,"t":117,"v":0.7},{"s":8,"t":122,"v":0.6},{"s":8,"t":127,"v":0.5},{"s":8,"t":132,"v":0.4},{"s":8,"t":137,"v":0.6},{"s":8,"t":142,"v":0.7},{"s":8,"t":147,"v":0.5},{"s":8,"t":152,"v":0.6},{"s":8,"t":157,"v":0.7},
{"s":8,"t":162,"v":0.5},{"s":8,"t":167,"v":0.6},{"s":8,"t":172,"v":0.7},{"s":8,"t":177,"v":0.4},{"s":8,"t":182,"v":0.6},{"s":8,"t":187,"v":0.5},{"s":8,"t":192,"v":0.7},{"s":8,"t":197,"v":0.6},{"s":8,"t":202,"v":0.5},{"s":8,"t":207,"v":0.7},
{"s":8,"t":212,"v":0.6},{"s":8,"t":217,"v":0.4},{"s":8,"t":222,"v":0.5},{"s":8,"t":227,"v":0.7},{"s":8,"t":232,"v":0.6},{"s":8,"t":237,"v":0.5},{"s":8,"t":242,"v":0.6},{"s":8,"t":247,"v":0.7},{"s":8,"t":252,"v":0.5},{"s":8,"t":257,"v":0.6},
{"s":8,"t":262,"v":0.7},{"s":8,"t":267,"v":0.5},{"s":8,"t":272,"v":0.6},{"s":8,"t":277,"v":0.4},{"s":8,"t":282,"v":0.7},{"s":8,"t":287,"v":0.6},{"s":8,"t":292,"v":0.5},{"s":8,"t":297,"v":0.7},{"s":8,"t":302,"v":0.6},{"s":8,"t":307,"v":0.5},
{"s":8,"t":312,"v":0.6},{"s":8,"t":317,"v":0.7},{"s":8,"t":320,"v":0.6},
{"s":9,"t":1,"v":1},{"s":9,"t":2,"v":1},{"s":9,"t":3,"v":0.67},{"s":9,"t":5,"v":0.6},{"s":9,"t":8,"v":0.5},
{"s":9,"t":12,"v":0.4},{"s":9,"t":17,"v":0.7},{"s":9,"t":22,"v":0.9},{"s":9,"t":27,"v":0.5},{"s":9,"t":32,"v":0.8},{"s":9,"t":37,"v":0.4},{"s":9,"t":42,"v":0.9},{"s":9,"t":47,"v":0.6},{"s":9,"t":52,"v":1},{"s":9,"t":57,"v":0.5},
{"s":9,"t":62,"v":0.8},{"s":9,"t":67,"v":0.4},{"s":9,"t":72,"v":0.9},{"s":9,"t":77,"v":0.6},{"s":9,"t":82,"v":1},{"s":9,"t":87,"v":0.5},{"s":9,"t":92,"v":0.8},{"s":9,"t":97,"v":0.3},{"s":9,"t":102,"v":0.7},{"s":9,"t":107,"v":1},
{"s":9,"t":112,"v":0.6},{"s":9,"t":117,"v":0.9},{"s":9,"t":122,"v":0.4},{"s":9,"t":127,"v":0.8},{"s":9,"t":132,"v":1},{"s":9,"t":137,"v":0.5},{"s":9,"t":142,"v":0.9},{"s":9,"t":147,"v":0.6},{"s":9,"t":152,"v":0.4},{"s":9,"t":157,"v":0.8},
{"s":9,"t":162,"v":1},{"s":9,"t":167,"v":0.6},{"s":9,"t":172,"v":0.9},{"s":9,"t":177,"v":0.5},{"s":9,"t":182,"v":0.8},{"s":9,"t":187,"v":1},{"s":9,"t":192,"v":0.6},{"s":9,"t":197,"v":0.9},{"s":9,"t":202,"v":0.4},{"s":9,"t":207,"v":0.8},
{"s":9,"t":212,"v":0.5},{"s":9,"t":217,"v":1},{"s":9,"t":222,"v":0.7},{"s":9,"t":227,"v":0.9},{"s":9,"t":232,"v":0.6},{"s":9,"t":237,"v":1},{"s":9,"t":242,"v":0.5},{"s":9,"t":247,"v":0.8},{"s":9,"t":252,"v":0.9},{"s":9,"t":257,"v":0.6},
{"s":9,"t":262,"v":1},{"s":9,"t":267,"v":0.7},{"s":9,"t":272,"v":0.5},{"s":9,"t":277,"v":0.9},{"s":9,"t":282,"v":0.8},{"s":9,"t":287,"v":0.6},{"s":9,"t":292,"v":1},{"s":9,"t":297,"v":0.7},{"s":9,"t":302,"v":0.9},{"s":9,"t":307,"v":0.5},
{"s":9,"t":312,"v":0.8},{"s":9,"t":317,"v":1},{"s":9,"t":320,"v":0.8},
{"s":10,"t":1,"v":0},{"s":10,"t":2,"v":0},{"s":10,"t":3,"v":0.33},{"s":10,"t":5,"v":0.4},{"s":10,"t":8,"v":0.5},
{"s":10,"t":12,"v":0.6},{"s":10,"t":17,"v":0.7},{"s":10,"t":22,"v":0.5},{"s":10,"t":27,"v":0.6},{"s":10,"t":32,"v":0.8},{"s":10,"t":37,"v":0.6},{"s":10,"t":42,"v":0.5},{"s":10,"t":47,"v":0.7},{"s":10,"t":52,"v":0.6},{"s":10,"t":57,"v":0.8},
{"s":10,"t":62,"v":0.7},{"s":10,"t":67,"v":0.6},{"s":10,"t":72,"v":0.5},{"s":10,"t":77,"v":0.7},{"s":10,"t":82,"v":0.8},{"s":10,"t":87,"v":0.6},{"s":10,"t":92,"v":0.7},{"s":10,"t":97,"v":0.5},{"s":10,"t":102,"v":0.8},{"s":10,"t":107,"v":0.7},
{"s":10,"t":112,"v":0.6},{"s":10,"t":117,"v":0.7},{"s":10,"t":122,"v":0.8},{"s":10,"t":127,"v":0.6},{"s":10,"t":132,"v":0.5},{"s":10,"t":137,"v":0.7},{"s":10,"t":142,"v":0.8},{"s":10,"t":147,"v":0.6},{"s":10,"t":152,"v":0.7},{"s":10,"t":157,"v":0.5},
{"s":10,"t":162,"v":0.7},{"s":10,"t":167,"v":0.8},{"s":10,"t":172,"v":0.6},{"s":10,"t":177,"v":0.7},{"s":10,"t":182,"v":0.8},{"s":10,"t":187,"v":0.5},{"s":10,"t":192,"v":0.7},{"s":10,"t":197,"v":0.6},{"s":10,"t":202,"v":0.8},{"s":10,"t":207,"v":0.7},
{"s":10,"t":212,"v":0.5},{"s":10,"t":217,"v":0.7},{"s":10,"t":222,"v":0.8},{"s":10,"t":227,"v":0.6},{"s":10,"t":232,"v":0.7},{"s":10,"t":237,"v":0.8},{"s":10,"t":242,"v":0.6},{"s":10,"t":247,"v":0.7},{"s":10,"t":252,"v":0.5},{"s":10,"t":257,"v":0.8},
{"s":10,"t":262,"v":0.7},{"s":10,"t":267,"v":0.6},{"s":10,"t":272,"v":0.8},{"s":10,"t":277,"v":0.7},{"s":10,"t":282,"v":0.5},{"s":10,"t":287,"v":0.6},{"s":10,"t":292,"v":0.8},{"s":10,"t":297,"v":0.7},{"s":10,"t":302,"v":0.6},{"s":10,"t":307,"v":0.7},
{"s":10,"t":312,"v":0.8},{"s":10,"t":317,"v":0.6},{"s":10,"t":320,"v":0.7}
],
"ccm": [
{"t":1,"v":0.41},{"t":3,"v":0.36},{"t":5,"v":0.38},{"t":8,"v":0.42},{"t":12,"v":0.45},{"t":16,"v":0.47},{"t":20,"v":0.488},{"t":24,"v":0.48},{"t":27,"v":0.488},{"t":31,"v":0.453},{"t":35,"v":0.46},{"t":38,"v":0.438},{"t":42,"v":0.465},{"t":45,"v":0.446},{"t":49,"v":0.492},{"t":53,"v":0.53},{"t":56,"v":0.554},{"t":60,"v":0.534},{"t":66,"v":0.515},{"t":71,"v":0.546},{"t":75,"v":0.55},{"t":80,"v":0.504},{"t":85,"v":0.54},{"t":90,"v":0.565},{"t":94,"v":0.53},{"t":99,"v":0.56},{"t":104,"v":0.588},{"t":110,"v":0.56},{"t":115,"v":0.538},{"t":120,"v":0.575},{"t":125,"v":0.612},{"t":129,"v":0.604},{"t":135,"v":0.546},{"t":139,"v":0.555},{"t":143,"v":0.561},{"t":147,"v":0.561},{"t":153,"v":0.542},{"t":159,"v":0.511},{"t":163,"v":0.54},{"t":168,"v":0.581},{"t":171,"v":0.577},{"t":174,"v":0.558},{"t":178,"v":0.6},{"t":182,"v":0.639},{"t":187,"v":0.6},{"t":191,"v":0.605},{"t":195,"v":0.612},{"t":200,"v":0.573},{"t":205,"v":0.546},{"t":209,"v":0.577},{"t":215,"v":0.534},{"t":218,"v":0.55},{"t":222,"v":0.569},{"t":226,"v":0.619},{"t":229,"v":0.608},{"t":234,"v":0.615},{"t":239,"v":0.627},{"t":245,"v":0.612},{"t":249,"v":0.619},{"t":255,"v":0.619},{"t":261,"v":0.612},{"t":265,"v":0.592},{"t":271,"v":0.596},{"t":275,"v":0.6},{"t":279,"v":0.569},{"t":286,"v":0.585},{"t":292,"v":0.608},{"t":298,"v":0.639},{"t":301,"v":0.627},{"t":305,"v":0.639},{"t":308,"v":0.608},{"t":311,"v":0.631},{"t":315,"v":0.612},{"t":318,"v":0.588},{"t":320,"v":0.577}
],
"dgm": [
{"t":1,"v":0.615},{"t":3,"v":0.55},{"t":5,"v":0.577},{"t":8,"v":0.515},{"t":11,"v":0.538},{"t":14,"v":0.53},{"t":18,"v":0.592},{"t":21,"v":0.592},{"t":24,"v":0.608},{"t":28,"v":0.608},{"t":32,"v":0.631},{"t":38,"v":0.681},{"t":42,"v":0.666},{"t":45,"v":0.697},{"t":48,"v":0.666},{"t":52,"v":0.669},{"t":56,"v":0.639},{"t":61,"v":0.643},{"t":67,"v":0.6},{"t":73,"v":0.65},{"t":77,"v":0.662},{"t":81,"v":0.685},{"t":86,"v":0.72},{"t":90,"v":0.704},{"t":93,"v":0.677},{"t":97,"v":0.7},{"t":104,"v":0.708},{"t":108,"v":0.739},{"t":112,"v":0.751},{"t":117,"v":0.724},{"t":121,"v":0.697},{"t":128,"v":0.669},{"t":134,"v":0.666},{"t":140,"v":0.6},{"t":145,"v":0.612},{"t":151,"v":0.658},{"t":154,"v":0.662},{"t":158,"v":0.643},{"t":160,"v":0.65},{"t":163,"v":0.662},{"t":167,"v":0.72},{"t":170,"v":0.689},{"t":175,"v":0.708},{"t":178,"v":0.689},{"t":181,"v":0.727},{"t":185,"v":0.689},{"t":189,"v":0.704},{"t":194,"v":0.727},{"t":199,"v":0.708},{"t":204,"v":0.697},{"t":207,"v":0.685},{"t":211,"v":0.662},{"t":215,"v":0.685},{"t":218,"v":0.662},{"t":222,"v":0.685},{"t":229,"v":0.712},{"t":234,"v":0.697},{"t":240,"v":0.677},{"t":245,"v":0.712},{"t":249,"v":0.7},{"t":255,"v":0.673},{"t":260,"v":0.697},{"t":265,"v":0.689},{"t":272,"v":0.646},{"t":277,"v":0.673},{"t":282,"v":0.697},{"t":286,"v":0.693},{"t":291,"v":0.658},{"t":295,"v":0.673},{"t":300,"v":0.708},{"t":306,"v":0.727},{"t":310,"v":0.72},{"t":315,"v":0.716},{"t":318,"v":0.677},{"t":320,"v":0.689}
]
},
"hconcat": [
{
  "title": {"text": "Crisscross"},
  "width": 554, "height": 466,
  "layer": [
    {"data": {"name": "cc"}, "mark": {"type": "line", "interpolate": "step-after", "color": "#7f93bd", "opacity": 0.45, "strokeWidth": 2.5},
     "encoding": {
       "x": {"field": "t", "type": "quantitative", "scale": {"domain": [-2.5, 323.5], "nice": false, "zero": false},
             "axis": {"values": [1,40,80,120,160,200,240,280,320], "title": "Trial", "labelPadding": 6, "titleX": 559, "titleY": 68, "titleBaseline": "alphabetic"}},
       "y": {"field": "v", "type": "quantitative", "scale": {"domain": [-0.04, 1.04], "nice": false, "zero": false},
             "axis": {"values": [0,0.2,0.4,0.6,0.8,1], "format": "~g", "title": "Proportion of correct", "labelAlign": "center", "labelPadding": 22, "titlePadding": 10}},
       "detail": {"field": "s", "type": "nominal"}
     }},
    {"data": {"name": "ccm"}, "mark": {"type": "line", "color": "#1f282e", "strokeWidth": 6},
     "encoding": {
       "x": {"field": "t", "type": "quantitative"},
       "y": {"field": "v", "type": "quantitative"}
     }}
  ]
},
{
  "title": {"text": "Diagonal"},
  "width": 552, "height": 466,
  "layer": [
    {"data": {"name": "dg"}, "mark": {"type": "line", "interpolate": "step-after", "color": "#7f93bd", "opacity": 0.45, "strokeWidth": 2.5},
     "encoding": {
       "x": {"field": "t", "type": "quantitative", "scale": {"domain": [-1.5, 323], "nice": false, "zero": false},
             "axis": {"values": [1,40,80,120,160,200,240,280,320], "title": null, "labelPadding": 6}},
       "y": {"field": "v", "type": "quantitative", "scale": {"domain": [-0.04, 1.04], "nice": false, "zero": false},
             "axis": {"values": [0,0.2,0.4,0.6,0.8,1], "labels": false, "title": null}},
       "detail": {"field": "s", "type": "nominal"}
     }},
    {"data": {"name": "dgm"}, "mark": {"type": "line", "color": "#1f282e", "strokeWidth": 6},
     "encoding": {
       "x": {"field": "t", "type": "quantitative"},
       "y": {"field": "v", "type": "quantitative"}
     }}
  ]
}
]
}
